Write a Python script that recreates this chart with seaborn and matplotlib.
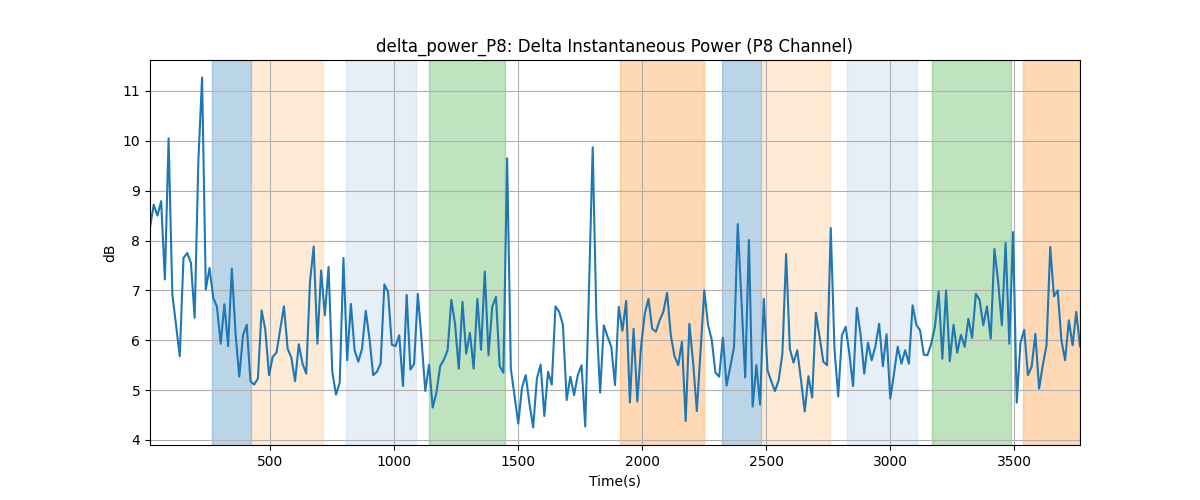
import numpy as np
import pandas as pd
import matplotlib
matplotlib.use("Agg")
import matplotlib.pyplot as plt
import seaborn as sns

# delta power samples, one every 15 s
step = 15
delta_db = [
    8.26, 8.72, 8.50, 8.79, 7.22, 10.05, 6.93, 6.30, 5.68, 7.65,
    7.75, 7.55, 6.45, 9.60, 11.27, 7.02, 7.45, 6.85, 6.67, 5.93,
    6.72, 5.88, 7.44, 6.13, 5.27, 6.10, 6.31, 5.18, 5.11, 5.23,
    6.60, 6.21, 5.30, 5.67, 5.75, 6.21, 6.68, 5.83, 5.65, 5.18,
    5.92, 5.53, 5.33, 7.17, 7.88, 5.93, 7.40, 6.50, 7.47, 5.37,
    4.91, 5.15, 7.65, 5.60, 6.73, 5.80, 5.57, 5.83, 6.59, 6.03,
    5.30, 5.37, 5.53, 7.12, 6.97, 5.91, 5.88, 6.10, 5.08, 6.91,
    5.41, 5.53, 6.93, 6.00, 4.98, 5.51, 4.65, 4.95, 5.48, 5.61,
    5.80, 6.81, 6.33, 5.43, 6.77, 5.73, 6.15, 5.43, 6.83, 5.81,
    7.38, 5.70, 6.67, 6.87, 5.48, 5.35, 9.65, 5.43, 4.88, 4.33,
    5.05, 5.30, 4.73, 4.25, 5.23, 5.51, 4.48, 5.37, 5.11, 6.68,
    6.57, 6.31, 4.80, 5.27, 4.90, 5.30, 5.50, 4.27, 7.00, 9.87,
    6.45, 4.95, 6.30, 6.07, 5.87, 5.10, 6.67, 6.19, 6.79, 4.75,
    6.23, 4.77, 5.87, 6.53, 6.83, 6.23, 6.17, 6.40, 6.57, 6.95,
    6.10, 5.68, 5.50, 5.97, 4.38, 6.33, 5.55, 4.58, 5.80, 7.00,
    6.31, 6.01, 5.35, 5.27, 6.05, 5.09, 5.47, 5.87, 8.33, 6.80,
    5.25, 8.01, 4.67, 5.50, 4.71, 6.83, 5.40, 5.18, 4.98, 5.20,
    5.73, 7.73, 5.83, 5.55, 5.80, 5.20, 4.57, 5.28, 4.85, 6.55,
    6.07, 5.57, 5.50, 8.25, 5.83, 4.87, 6.10, 6.27, 5.73, 5.08,
    6.65, 6.13, 5.33, 5.95, 5.60, 5.88, 6.33, 5.48, 6.12, 4.83,
    5.33, 5.87, 5.53, 5.80, 5.53, 6.70, 6.31, 6.20, 5.71, 5.70,
    5.93, 6.27, 6.98, 5.63, 7.00, 5.58, 6.31, 5.75, 6.11, 5.87,
    6.43, 6.05, 6.93, 6.81, 6.30, 6.68, 6.03, 7.83, 7.17, 6.30,
    7.95, 5.93, 8.17, 4.75, 5.95, 6.21, 5.30, 5.47, 6.13, 5.03,
    5.50, 5.90, 7.87, 6.88, 7.00, 6.00, 5.60, 6.40, 5.90, 6.57,
    5.88,
]
time_s = np.arange(1, len(delta_db) + 1) * step

# shaded segments (start, end, colour)
seg_start = [266, 422, 806, 1141, 1911, 2323, 2477, 2827, 3169, 3536]
seg_end = [422, 712, 1087, 1447, 2249, 2477, 2758, 3107, 3487, 3765]
seg_color = ["tab:blue", "#ffbb78", "#aec7e8", "tab:green", "tab:orange",
             "tab:blue", "#ffbb78", "#aec7e8", "tab:green", "tab:orange"]

df = pd.DataFrame({"Time(s)": time_s, "dB": delta_db})

fig, ax = plt.subplots(figsize=(12, 5), dpi=100)
for s, e, c in zip(seg_start, seg_end, seg_color):
    ax.axvspan(s, e, color=c, alpha=0.3)

sns.lineplot(data=df, x="Time(s)", y="dB", ax=ax, color="tab:blue", linewidth=1.5)
ax.set_xlim(time_s[0], time_s[-1])
ax.grid(True)
ax.set_title("delta_power_P8: Delta Instantaneous Power (P8 Channel)")
ax.set_xlabel("Time(s)")
ax.set_ylabel("dB")

fig.savefig("out.png", dpi=100)
